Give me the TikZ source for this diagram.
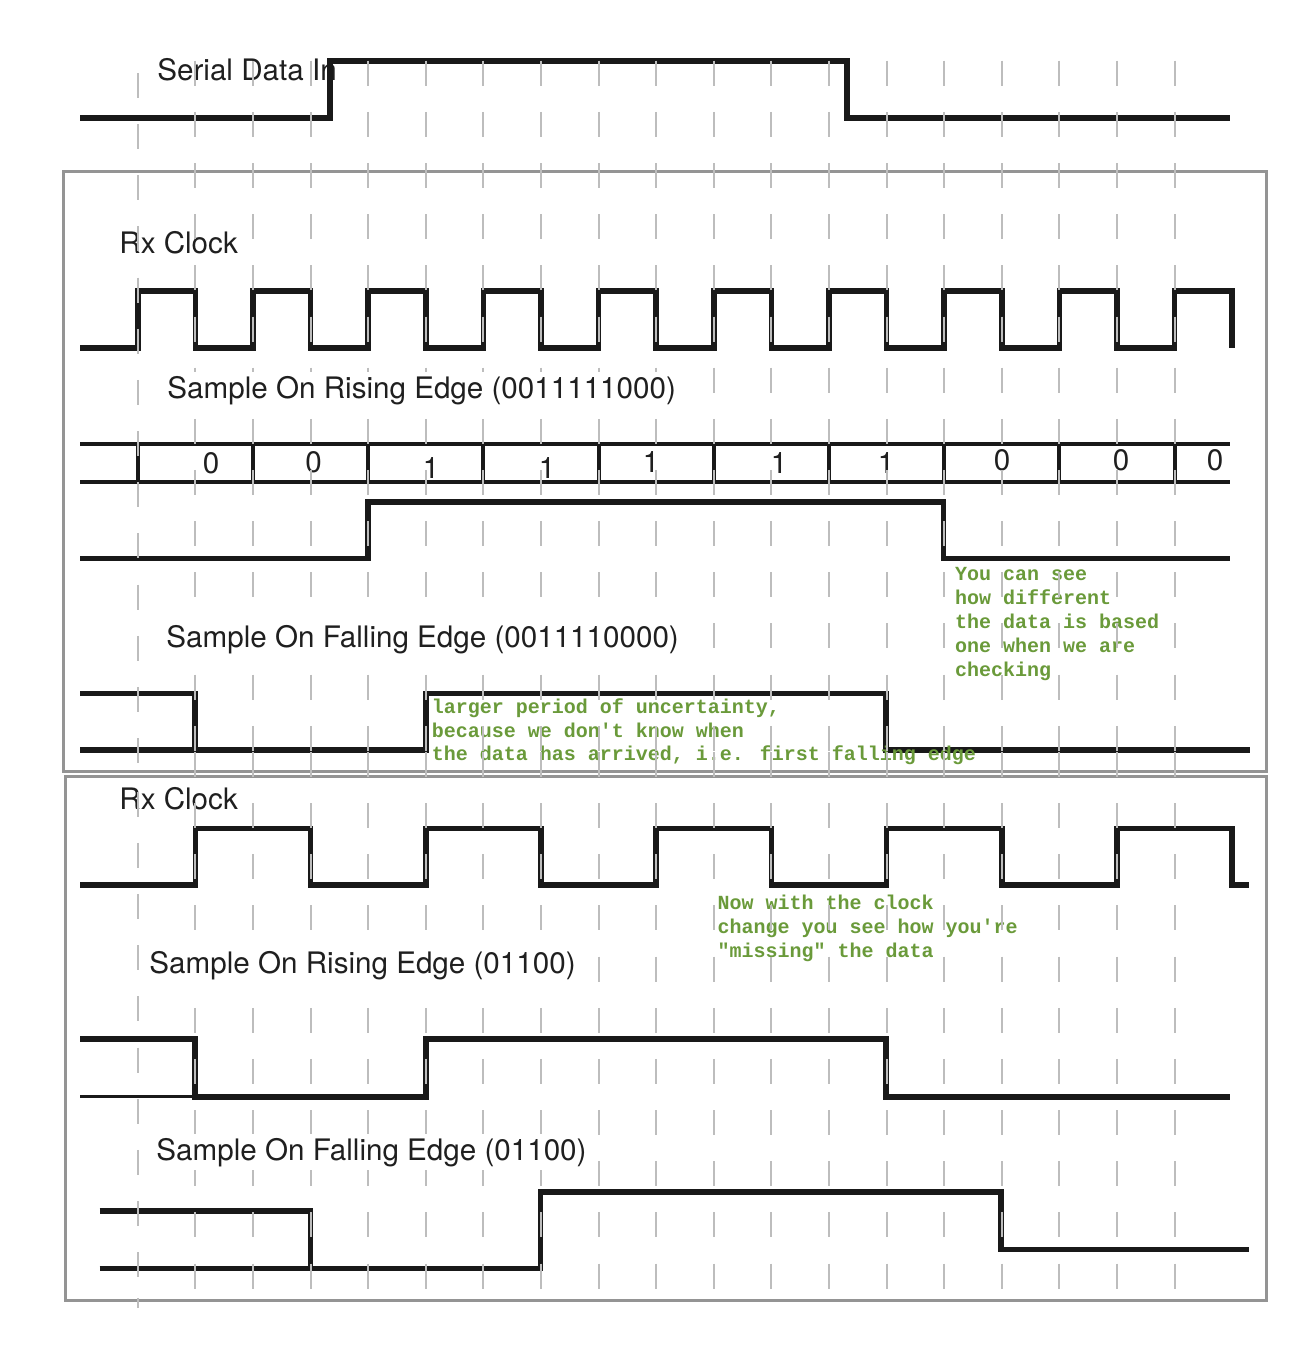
\documentclass[tikz,border=0pt]{standalone}
\usepackage{fontspec}
\setmainfont{TeX Gyre Heros}
\newfontfamily\notefont{Liberation Mono}[Ligatures=TeXOff]
\definecolor{notegreen}{RGB}{106,154,58}

\begin{document}
\begin{tikzpicture}[x=0.5pt, y=-0.5pt,
    sig/.style={line width=2.8pt, draw=black!90, line join=miter},
    thinsig/.style={line width=1.4pt, draw=black!90},
    bus/.style={line width=2pt, draw=black!90},
    frame/.style={line width=1.5pt, draw=black!42},
    gridtick/.style={line width=1pt, draw=black!26},
    sigtext/.style={inner sep=0pt, anchor=base west, text=black!88, font=\fontsize{14.8}{16}\selectfont},
    sampletext/.style={sigtext, fill=white, inner ysep=2pt},
    bit/.style={inner sep=0pt, anchor=base, text=black!88, font=\fontsize{14.8}{16}\selectfont},
    note/.style={inner sep=0pt, anchor=base west, text=notegreen, font=\notefont\bfseries\fontsize{10}{12}\selectfont}]
    \useasboundingbox (0,0) rectangle (1306,1350);

    \def\gap{57.6}% grid spacing
    \def\clk{115.2}% one period of the fast clock
    \def\first{137.7}

    \node[sigtext] (serial) at (157,80) {Serial Data In};
    \node[sigtext] (clkA) at (119,253) {Rx Clock};
    \node[sigtext] (clkB) at (119,809) {Rx Clock};

    % serial data in
    \draw[sig] (80,118) -- (330,118) -- (330,60.7) -- (847,60.7) -- (847,118) -- (1230,118);

    % upper box: fast clock
    \draw[sig] (80,348) foreach \k in {0,...,9} {
        -- (\first+\clk*\k,348) -- (\first+\clk*\k,290.7) -- (\first+\gap+\clk*\k,290.7) -- (\first+\gap+\clk*\k,348)
    };
    \draw[bus] (80,444) -- (1230,444);
    \draw[bus] (80,482.3) -- (1230,482.3);
    \foreach \k in {0,...,9}
        \draw[bus] (\first+\clk*\k,444) -- (\first+\clk*\k,482.3);
    \foreach \x/\y/\b [count=\i] in {211/473/0, 313.5/472/0, 431/478/1, 547/478/1, 651/472/1, 779/473/1, 886/473/1, 1002/470/0, 1121/470/0, 1215/470/0}
        \node[bit] (bit-\i) at (\x,\y) {\b};
    \draw[sig] (80,558.3) -- (368,558.3) -- (368,501.7) -- (943.5,501.7) -- (943.5,558.3) -- (1230,558.3);
    \draw[sig] (80,693.3) -- (195,693.3) -- (195,750);
    \draw[sig] (80,750) -- (425.7,750) -- (425.7,693.3) -- (886,693.3) -- (886,750) -- (1250,750);

    % lower box: slow clock
    \draw[sig] (80,885) foreach \k in {0,...,4} {
        -- (\first+\gap+2*\clk*\k,885) -- ++(0,-56.7) -- ++(\clk,0) -- ++(0,56.7)
    } -- (1249.3,885);
    \draw[thinsig] (80,1096.7) -- (195,1096.7);
    \draw[sig] (80,1039) -- (195,1039) -- (195,1096.7) -- (425.7,1096.7) -- (425.7,1039) -- (886,1039) -- (886,1096.7) -- (1230,1096.7);
    \draw[sig] (99.5,1211) -- (310.5,1211) -- (310.5,1268.3);
    \draw[sig] (99.5,1268.3) -- (540.5,1268.3) -- (540.5,1192) -- (1001,1192) -- (1001,1249.3) -- (1249.3,1249.3);

    \draw[frame] (63.3,171.7) rectangle (1266.5,771);
    \draw[frame] (65,776.7) rectangle (1266.5,1300);

    \foreach \ln [count=\i from 0] in {You can see, how different, the data is based, one when we are, checking}
        \node[note] (seen-\i) at (954.8,580.5+24*\i) {\ln};
    \foreach \ln [count=\i from 0] in {{larger period of uncertainty,}, because we don't know when, {the data has arrived, i.e. first falling edge}}
        \node[note] (unsure-\i) at (431.5,713.5+23.5*\i) {\ln};
    \foreach \ln [count=\i from 0] in {Now with the clock, change you see how you're, "missing" the data}
        \node[note] (missing-\i) at (717.3,909.3+24*\i) {\ln};

    % dashed grid
    \foreach \i in {1,...,18} {
        \foreach \k in {0,...,13}
            \draw[gridtick] (\first+\gap*\i,60.7+51.16*\k) -- ++(0,25);
        \foreach \k in {0,...,10}
            \draw[gridtick] (\first+\gap*\i,752+51.16*\k) -- ++(0,25);
    }
    \foreach \k in {0,...,13}
        \draw[gridtick] (\first,73+51.16*\k) -- ++(0,25);
    \foreach \k in {0,...,9}
        \draw[gridtick] (\first,791.8+51.16*\k) -- ++(0,25);
    \draw[gridtick] (\first,1298) -- (\first,1308);

    \node[sampletext] (riseA) at (167,398) {Sample On Rising Edge (0011111000)};
    \node[sampletext] (fallA) at (166,647) {Sample On Falling Edge (0011110000)};
    \node[sampletext] (riseB) at (149,973) {Sample On Rising Edge (01100)};
    \node[sampletext] (fallB) at (156,1160) {Sample On Falling Edge (01100)};
\end{tikzpicture}
\end{document}
